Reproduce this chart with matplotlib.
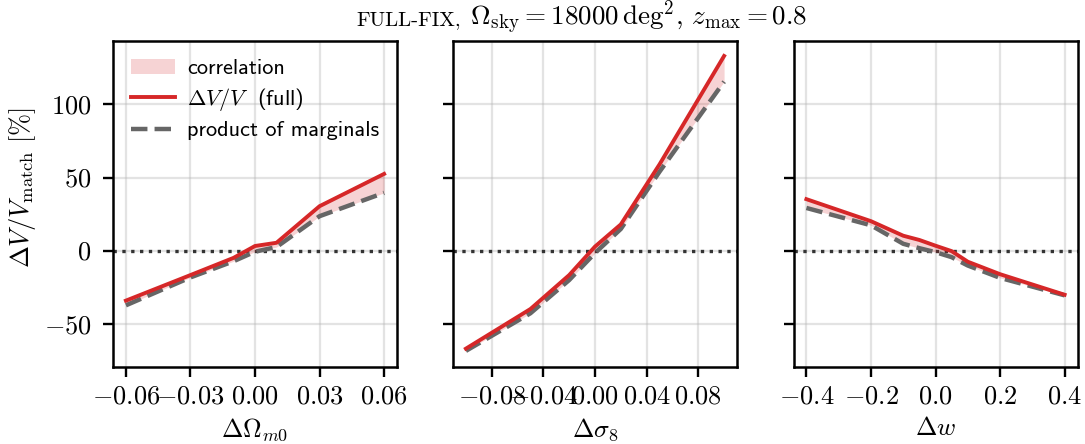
import matplotlib
matplotlib.use("Agg")
import matplotlib.pyplot as plt
from matplotlib.ticker import FixedLocator, FuncFormatter
from matplotlib.patches import Patch
from matplotlib.lines import Line2D

plt.rcParams["font.family"] = "cmss10"
plt.rcParams["mathtext.fontset"] = "cm"
plt.rcParams["axes.formatter.use_mathtext"] = True

# relative volume change (%) for shifts of one parameter at a time
d_om = [-0.06, -0.03, -0.01, 0.0, 0.01, 0.03, 0.06]
om_full = [-33.8, -16.4, -4.7, 3.4, 5.6, 30.5, 52.5]
om_marg = [-37.0, -18.0, -7.0, -0.5, 2.7, 23.7, 39.6]

d_s8 = [-0.10, -0.05, -0.02, 0.0, 0.02, 0.05, 0.10]
s8_full = [-66.5, -39.5, -16.4, 3.0, 18.1, 59.0, 132.8]
s8_marg = [-68.0, -42.4, -19.8, -1.4, 15.0, 54.0, 115.3]

d_w = [-0.4, -0.2, -0.1, -0.05, 0.0, 0.05, 0.1, 0.2, 0.4]
w_full = [35.3, 20.3, 10.4, 7.5, 3.6, -0.1, -7.3, -15.8, -29.8]
w_marg = [29.3, 17.5, 4.9, 1.9, -0.8, -4.2, -9.9, -18.3, -30.2]

om_ticks = [-0.06, -0.03, 0.0, 0.03, 0.06]
s8_ticks = [-0.08, -0.04, 0.0, 0.04, 0.08]
w_ticks = [-0.4, -0.2, 0.0, 0.2, 0.4]
y_ticks = [-50, 0, 50, 100]

panels = [
    (d_om, om_full, om_marg, om_ticks, 2, r"$\Delta\Omega_{m0}$"),
    (d_s8, s8_full, s8_marg, s8_ticks, 2, r"$\Delta\sigma_8$"),
    (d_w, w_full, w_marg, w_ticks, 1, r"$\Delta w$"),
]

RED = "#d62728"
GREY = "#666666"
FS = 19

fig = plt.figure(figsize=(10.85, 4.44), dpi=100)
W, H = 1085.0, 444.0
lefts = [113, 453, 793.5]
axes = []
for i, (x, full, marg, ticks, nd, xlab) in enumerate(panels):
    ax = fig.add_axes([lefts[i] / W, 1 - 367 / H, 284 / W, 326 / H],
                      sharey=axes[0] if axes else None)
    axes.append(ax)
    ax.fill_between(x, marg, full, color=RED, alpha=0.2, lw=0, zorder=2)
    ax.plot(x, full, color=RED, lw=2.8, zorder=4)
    ax.plot(x, marg, color=GREY, lw=3.2, ls="--", zorder=3)
    ax.axhline(0, color="#333333", ls=":", lw=2.4, zorder=1)

    ax.xaxis.set_major_locator(FixedLocator(ticks))
    ax.xaxis.set_major_formatter(FuncFormatter(lambda v, p, nd=nd: f"${v:.{nd}f}$"))
    ax.yaxis.set_major_locator(FixedLocator(y_ticks))
    ax.yaxis.set_major_formatter(FuncFormatter(lambda v, p: f"${v:.0f}$"))
    ax.grid(True, color="#b0b0b0", alpha=0.35, lw=1.6)
    ax.set_axisbelow(True)
    ax.tick_params(direction="out", length=7.5, width=1.7, labelsize=FS)
    ax.tick_params(axis="x", pad=6)
    ax.tick_params(axis="y", pad=8)
    for s in ax.spines.values():
        s.set_linewidth(1.8)
    ax.set_xlabel(xlab, fontsize=18.5)
    ax.xaxis.set_label_coords(0.5, -0.152)
    if i > 0:
        ax.tick_params(labelleft=False)

axes[0].set_ylim(-79, 143)
axes[0].set_ylabel(r"$\Delta V/V_{\rm match}\ [\%]$", fontsize=FS)
axes[0].yaxis.set_label_coords(-0.265, 0.55)

handles = [
    Patch(facecolor=RED, alpha=0.2, lw=0),
    Line2D([], [], color=RED, lw=2.8),
    Line2D([], [], color=GREY, lw=3.2, ls="--"),
]
labels = ["correlation", r"$\Delta V/V$  (full)", "product of marginals"]
axes[0].legend(handles, labels, loc="upper left", frameon=False, fontsize=16,
               handlelength=2.0, handletextpad=0.55, labelspacing=0.35,
               borderaxespad=0.4)

# title: small-caps run name followed by the survey setup
y_base = 1 - 25 / H
t1 = fig.text(0, y_base, "FULL-FIX,", family="cmr10", fontsize=15, va="baseline")
t2 = fig.text(0, y_base, r" $\Omega_{\rm sky} = 18000\,{\rm deg}^2$, $z_{\rm max} = 0.8$",
              family="cmr10", fontsize=19.5, va="baseline")
r = fig.canvas.get_renderer()
w1 = t1.get_window_extent(r).width
w2 = t2.get_window_extent(r).width
x0 = 581.5 - (w1 + w2) / 2
t1.set_x(x0 / W)
t2.set_x((x0 + w1) / W)

fig.savefig("out.png", dpi=100)
